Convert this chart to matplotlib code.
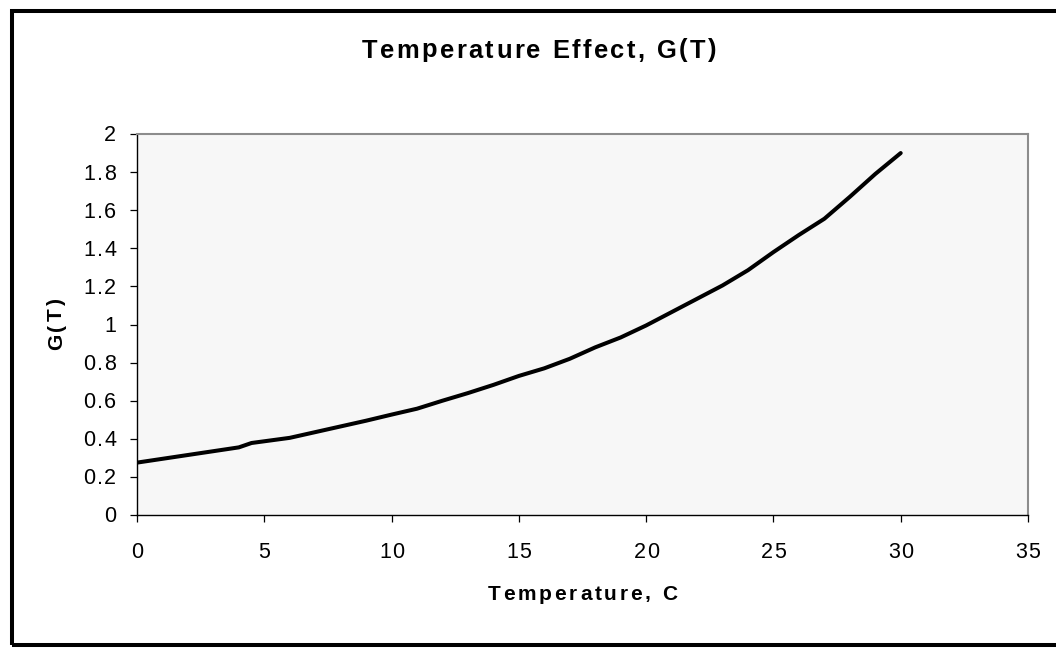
import matplotlib
matplotlib.use("Agg")
import matplotlib.pyplot as plt
from matplotlib.patches import Rectangle
from matplotlib.font_manager import FontProperties, findfont, get_font

plt.rcParams['font.family'] = ['Liberation Sans', 'DejaVu Sans']

# Temperature (C) and temperature effect G(T)
temperature = [0, 1, 2, 3, 4, 4.5, 5, 6, 7, 8, 9, 10, 11, 12, 13, 14, 15,
               16, 17, 18, 19, 20, 21, 22, 23, 24, 25, 26, 27, 28, 29, 30]
g_values = [0.275, 0.295, 0.315, 0.335, 0.355, 0.378, 0.387, 0.405, 0.435,
            0.465, 0.495, 0.527, 0.558, 0.600, 0.640, 0.683, 0.730, 0.770,
            0.820, 0.880, 0.932, 0.995, 1.065, 1.135, 1.205, 1.285, 1.380,
            1.470, 1.555, 1.670, 1.790, 1.900]

x_ticks = [0, 5, 10, 15, 20, 25, 30, 35]
x_tick_labels = ['0', '5', '10', '15', '20', '25', '30', '35']
y_ticks = [0, 0.2, 0.4, 0.6, 0.8, 1.0, 1.2, 1.4, 1.6, 1.8, 2.0]
y_tick_labels = ['0', '0.2', '0.4', '0.6', '0.8', '1', '1.2', '1.4', '1.6', '1.8', '2']

title = 'Temperature Effect, G(T)'
x_label = 'Temperature, C'
y_label = 'G(T)'

W, H = 1056, 650
DPI = 100
fig = plt.figure(figsize=(W / DPI, H / DPI), dpi=DPI)
fig.patch.set_facecolor('white')


def advances(s, size, weight):
    """Per-character advance widths in pixels."""
    prop = FontProperties(family='Liberation Sans', weight=weight, size=size)
    font = get_font(findfont(prop))
    font.set_size(size, DPI)
    return [font.load_char(ord(c)).linearHoriAdvance / 65536 for c in s]


def spaced_text(x, y, s, size, spacing, weight='normal', ha='left', rotation=0):
    """Draw text with extra letter spacing; x, y in pixels from the top-left,
    y is the baseline (or the baseline x for vertical text)."""
    adv = advances(s, size, weight)
    total = sum(adv) + spacing * (len(s) - 1)
    offset = {'left': 0, 'center': total / 2, 'right': total}[ha]
    pos = -offset
    for c, a in zip(s, adv):
        if rotation == 90:
            px, py = x, y - pos
        else:
            px, py = x + pos, y
        fig.text(px / W, 1 - py / H, c, fontsize=size, fontweight=weight,
                 family='Liberation Sans', ha='left', va='baseline',
                 rotation=rotation, rotation_mode='anchor')
        pos += a + spacing


# plot area in pixel coordinates
left, right, top, bottom = 137, 1028, 134, 515
ax = fig.add_axes([left / W, (H - bottom) / H, (right - left) / W, (bottom - top) / H])
ax.set_facecolor('#F7F7F7')

ax.plot(temperature, g_values, color='black', linewidth=2.9, solid_joinstyle='round',
        solid_capstyle='round')

ax.set_xlim(0, 35)
ax.set_ylim(0, 2)
ax.set_xticks(x_ticks)
ax.set_yticks(y_ticks)
ax.set_xticklabels([])
ax.set_yticklabels([])

for side in ('left', 'bottom'):
    ax.spines[side].set_color('black')
    ax.spines[side].set_linewidth(1.0)
for side in ('top', 'right'):
    ax.spines[side].set_color('#8C8C8C')
    ax.spines[side].set_linewidth(1.5)

ax.tick_params(axis='both', direction='out', length=5, width=0.9, color='black')

# tick labels, positioned through the axes' data transform
tick_size = 15.5
for t, lab in zip(x_ticks, x_tick_labels):
    dx, _ = ax.transData.transform((t, 0))
    spaced_text(dx, 558, lab, tick_size, 1.2, ha='center')
for v, lab in zip(y_ticks, y_tick_labels):
    _, dy = ax.transData.transform((0, v))
    spaced_text(116, H - dy + 7.5, lab, tick_size, 1.4, ha='right')

spaced_text(362, 57.5, title, 18.4, 2.4, weight='bold', ha='left')
spaced_text(582.5, 599.5, x_label, 15, 2.8, weight='bold', ha='center')
spaced_text(62, 324, y_label, 15, 2.8, weight='bold', ha='center', rotation=90)

# black chart frame
frame = Rectangle((12 / W, (H - 644.5) / H), (1070 - 12) / W, (644.5 - 11) / H,
                  transform=fig.transFigure, fill=False, edgecolor='black',
                  linewidth=2.9, clip_on=False)
fig.patches.append(frame)

fig.savefig('out.png', dpi=DPI, facecolor='white')
